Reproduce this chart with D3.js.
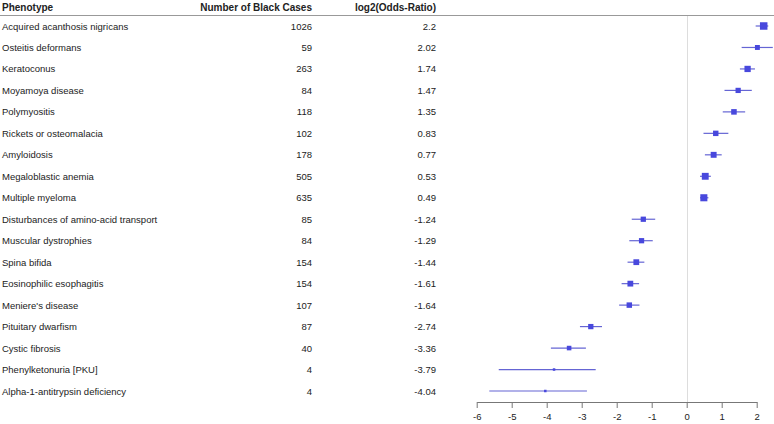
<!DOCTYPE html>
<html><head><meta charset="utf-8">
<script src="https://cdn.jsdelivr.net/npm/d3@7"></script>
<style>body{margin:0;background:#fff}text{font-family:"Liberation Sans",Arial,sans-serif}</style>
</head><body><svg id="c" width="774" height="424"></svg>
<script>
const phenotypes = ["Acquired acanthosis nigricans","Osteitis deformans","Keratoconus","Moyamoya disease","Polymyositis","Rickets or osteomalacia","Amyloidosis","Megaloblastic anemia","Multiple myeloma","Disturbances of amino-acid transport","Muscular dystrophies","Spina bifida","Eosinophilic esophagitis","Meniere's disease","Pituitary dwarfism","Cystic fibrosis","Phenylketonuria [PKU]","Alpha-1-antitrypsin deficiency"];
const cases = [1026,59,263,84,118,102,178,505,635,85,84,154,154,107,87,40,4,4];
const log2OR = [2.2,2.02,1.74,1.47,1.35,0.83,0.77,0.53,0.49,-1.24,-1.29,-1.44,-1.61,-1.64,-2.74,-3.36,-3.79,-4.04];
const ciLow = [1.97,1.57,1.52,1.08,1.03,0.48,0.52,0.38,0.38,-1.57,-1.64,-1.69,-1.86,-1.93,-3.05,-3.88,-5.37,-5.64];
const ciHigh = [2.33,2.46,1.95,1.86,1.67,1.19,1.0,0.69,0.62,-0.9,-0.97,-1.21,-1.36,-1.35,-2.42,-2.88,-2.6,-2.85];
const xTicks = [-6,-5,-4,-3,-2,-1,0,1,2];
const headers = ["Phenotype","Number of Black Cases","log2(Odds-Ratio)"];

const svg = d3.select("#c");
const x = d3.scaleLinear().domain([-6,2]).range([476.7,756.7]);
const y = d3.scalePoint().domain(d3.range(phenotypes.length)).range([26,391]);
const sz = d3.scaleLog().domain([4,1026]).range([2.5,7.5]);
const blue = "#4848dd";

// header
svg.append("text").attr("x",2).attr("y",11).attr("font-weight","bold").attr("font-size",10).attr("fill","#222").text(headers[0]);
svg.append("text").attr("x",312).attr("y",11).attr("text-anchor","end").attr("font-weight","bold").attr("font-size",10).attr("fill","#222").text(headers[1]);
svg.append("text").attr("x",436).attr("y",11).attr("text-anchor","end").attr("font-weight","bold").attr("font-size",10).attr("fill","#222").text(headers[2]);
svg.append("line").attr("x1",0).attr("x2",774).attr("y1",15.5).attr("y2",15.5).attr("stroke","#999").attr("stroke-width",1);

// zero line
svg.append("line").attr("x1",Math.round(x(0))+0.5).attr("x2",Math.round(x(0))+0.5).attr("y1",16).attr("y2",402).attr("stroke","#ddd").attr("stroke-width",1);

const rows = svg.append("g").selectAll("g").data(phenotypes).join("g");
rows.append("text").attr("x",2).attr("y",(d,i)=>y(i)+3.5).attr("font-size",9.5).attr("fill","#222").text(d=>d);
rows.append("text").attr("x",312).attr("y",(d,i)=>y(i)+3.5).attr("text-anchor","end").attr("font-size",9.5).attr("fill","#222").text((d,i)=>cases[i]);
rows.append("text").attr("x",436).attr("y",(d,i)=>y(i)+3.5).attr("text-anchor","end").attr("font-size",9.5).attr("fill","#222").text((d,i)=>log2OR[i]);
rows.append("line").attr("x1",(d,i)=>x(ciLow[i])).attr("x2",(d,i)=>x(ciHigh[i]))
  .attr("y1",(d,i)=>y(i)).attr("y2",(d,i)=>y(i)).attr("stroke","#4a4acc").attr("stroke-opacity",0.85).attr("stroke-width",1.2);
rows.append("rect").attr("x",(d,i)=>x(log2OR[i])-sz(cases[i])/2).attr("y",(d,i)=>y(i)-sz(cases[i])/2)
  .attr("width",(d,i)=>sz(cases[i])).attr("height",(d,i)=>sz(cases[i])).attr("fill",blue);

// axis
const ax = svg.append("g").attr("transform","translate(0,402)")
  .call(d3.axisBottom(x).tickValues(xTicks).tickSize(6).tickSizeOuter(0).tickFormat(d=>String(d)));
ax.select(".domain").attr("stroke","#777");
ax.selectAll(".tick line").attr("stroke","#777");
ax.selectAll(".tick text").attr("font-family","Liberation Sans, Arial, sans-serif").attr("font-size",9.5).attr("fill","#222").attr("dy","0.9em");
</script></body></html>
